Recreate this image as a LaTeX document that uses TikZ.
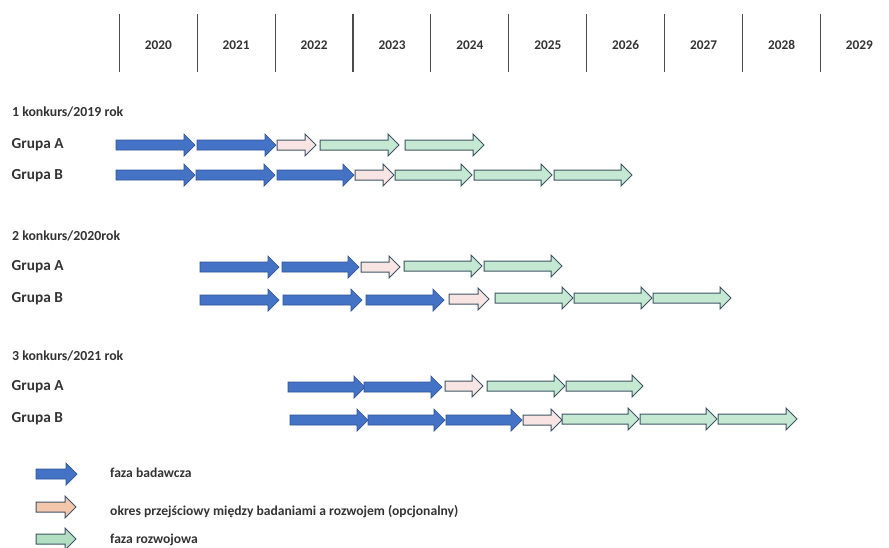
\documentclass[tikz,border=0pt]{standalone}
\usepackage{fontspec}
\setmainfont{Carlito}
\usetikzlibrary{positioning}

\definecolor{niebieski}{HTML}{4472C4}
\definecolor{niebieskiObr}{HTML}{2F5597}
\definecolor{rozowy}{HTML}{F8E4E2}
\definecolor{zielony}{HTML}{C4E8D1}
\definecolor{rozowyLeg}{HTML}{F4C7AC}
\definecolor{zielonyLeg}{HTML}{B2DEC2}
\definecolor{obrys}{HTML}{3E5464}

\tikzset{
	badawcza/.style={fill=niebieski, draw=niebieskiObr, line width=0.7pt, line join=miter},
	przejscie/.style={fill=rozowy, draw=obrys, line width=1pt, line join=miter},
	rozwoj/.style={fill=zielony, draw=obrys, line width=1pt, line join=miter},
	rok/.style={font=\bfseries\fontsize{13.3}{15}\selectfont, text=black!80, anchor=base},
	grupa/.style={font=\bfseries\fontsize{15.3}{18}\selectfont, text=black!80, anchor=base west, inner sep=0pt},
	konkurs/.style={font=\bfseries\fontsize{13.8}{16}\selectfont, text=black!80, anchor=base west, inner sep=0pt},
	opis/.style={font=\bfseries\fontsize{13.6}{16}\selectfont, text=black!80, anchor=base west, inner sep=0pt}
}

% strzalka: styl, poczatek, koniec, y
\newcommand{\etap}[4]{%
	\draw[#1] ({#2},{#4-5}) -- ({#3-11},{#4-5}) -- ({#3-11},{#4-11}) -- ({#3},{#4})
		-- ({#3-11},{#4+11}) -- ({#3-11},{#4+5}) -- ({#2},{#4+5}) -- cycle;}

\begin{document}
\begin{tikzpicture}[x=1pt, y=-1pt]
	\useasboundingbox (0,0) rectangle (889,547);

	% os lat
	\foreach \k in {0,...,9} {
		\draw[line width=1.1pt, black!70] ({119.3+77.9*\k},14) -- ({119.3+77.9*\k},72);
		\pgfmathtruncatemacro{\rokk}{2020+\k}
		\node[rok] (rok\rokk) at ({158.3+77.9*\k},49) {\rokk};
	}

	% 1 konkurs
	\node[konkurs] (k1) at (12,116.7) {1 konkurs/2019 rok};
	\node[grupa] (k1a) at (11.5,148.3) {Grupa A};
	\node[grupa] (k1b) at (11.5,179) {Grupa B};
	\foreach \a/\b in {116/195, 197/276} \etap{badawcza}{\a}{\b}{145};
	\etap{przejscie}{277}{316}{145};
	\foreach \a/\b in {320/399, 405/484} \etap{rozwoj}{\a}{\b}{145};
	\foreach \a/\b in {116/195, 196/275, 277/354} \etap{badawcza}{\a}{\b}{175};
	\etap{przejscie}{355}{394}{175};
	\foreach \a/\b in {395/472, 474/552, 554/632} \etap{rozwoj}{\a}{\b}{175};

	% 2 konkurs
	\node[konkurs] (k2) at (12,240.7) {2 konkurs/2020rok};
	\node[grupa] (k2a) at (11.5,270) {Grupa A};
	\node[grupa] (k2b) at (11.5,302.5) {Grupa B};
	\foreach \a/\b in {200/279, 282/359} \etap{badawcza}{\a}{\b}{267};
	\etap{przejscie}{361}{400}{267};
	\foreach \a/\b in {404/482, 484/562} \etap{rozwoj}{\a}{\b}{266};
	\foreach \a/\b in {200/279, 283/362, 366/444} \etap{badawcza}{\a}{\b}{300};
	\etap{przejscie}{449}{489}{299};
	\foreach \a/\b in {495/573, 574/652, 653/731} \etap{rozwoj}{\a}{\b}{298};

	% 3 konkurs
	\node[konkurs] (k3) at (12,360) {3 konkurs/2021 rok};
	\node[grupa] (k3a) at (11.5,390.7) {Grupa A};
	\node[grupa] (k3b) at (11.5,422.5) {Grupa B};
	\foreach \a/\b in {288/365, 364/442} \etap{badawcza}{\a}{\b}{387};
	\etap{przejscie}{445}{483}{386};
	\foreach \a/\b in {487/565, 566/643} \etap{rozwoj}{\a}{\b}{386};
	\foreach \a/\b in {290/368, 368/445, 446/522} \etap{badawcza}{\a}{\b}{420};
	\etap{przejscie}{523}{562}{420};
	\foreach \a/\b in {562/639, 640/717, 718/797} \etap{rozwoj}{\a}{\b}{419};

	% legenda
	\etap{badawcza}{36}{77}{474};
	\etap{przejscie, fill=rozowyLeg}{36}{76}{507};
	\etap{rozwoj, fill=zielonyLeg}{36}{76}{539};
	\node[opis] (leg1) at (110,477) {faza badawcza};
	\node[opis] (leg2) at (110,515) {okres przejściowy między badaniami a rozwojem (opcjonalny)};
	\node[opis] (leg3) at (110,543.5) {faza rozwojowa};
\end{tikzpicture}
\end{document}
